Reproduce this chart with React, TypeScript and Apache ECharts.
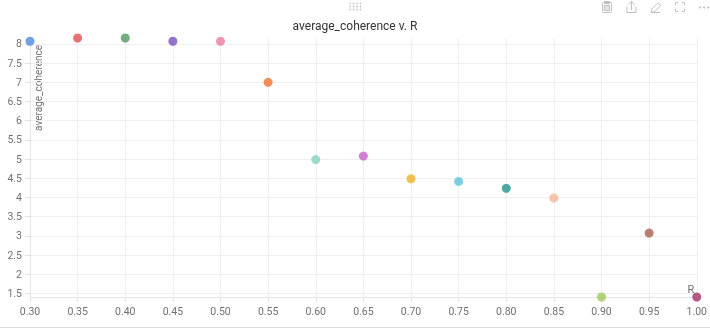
import React, { useEffect, useRef } from "react";
import * as echarts from "echarts";

const rValues = [0.3, 0.35, 0.4, 0.45, 0.5, 0.55, 0.6, 0.65, 0.7, 0.75, 0.8, 0.85, 0.9, 0.95, 1.0];
const coherenceValues = [8.07, 8.155, 8.155, 8.07, 8.07, 7.0, 4.99, 5.08, 4.49, 4.42, 4.24, 3.99, 1.41, 3.075, 1.41];
const xTickInterval = 0.05;

const palette = [
  "#4f8ae6", "#e05050", "#4f9a5c", "#7a4fbe", "#ec7c9c",
  "#ec7430", "#82d2bf", "#c862c8", "#efb22c", "#5cc3d8",
  "#20938a", "#f5b792", "#9cc957", "#a6604a", "#a52f66",
];

const titleText = "average_coherence v. R";
const yName = "average_coherence";
const xName = "R";

export default function App() {
  const ref = useRef<HTMLDivElement>(null);
  useEffect(() => {
    if (!ref.current) return;
    const chart = echarts.init(ref.current, null, { renderer: "svg" });
    const font = "Roboto, 'Noto Sans', sans-serif";
    const yMin = Math.min(...coherenceValues);
    const yMax = Math.max(...coherenceValues);
    const iconColor = "#bfbfbf";
    const dots: any[] = [];
    for (let r = 0; r < 3; r++) {
      for (let c = 0; c < 4; c++) {
        dots.push({
          type: "circle",
          shape: { cx: 350 + c * 3.5, cy: 3.5 + r * 3, r: 0.8 },
          style: { fill: "#c4c4c4" },
          silent: true,
        });
      }
    }
    const iconStroke = { stroke: iconColor, lineWidth: 1, fill: "none" };
    const icons: any[] = [
      // clipboard
      { type: "rect", shape: { x: 602.5, y: 2.5, width: 9, height: 10, r: 1 }, style: iconStroke },
      { type: "rect", shape: { x: 604.5, y: 1.5, width: 5, height: 2 }, style: { ...iconStroke, fill: iconColor } },
      { type: "rect", shape: { x: 604.5, y: 5.5, width: 5, height: 5 }, style: { ...iconStroke, fill: "#e4e4e4" } },
      // share
      { type: "polyline", shape: { points: [[627, 7], [627, 12.5], [636, 12.5], [636, 7]] }, style: iconStroke },
      { type: "polyline", shape: { points: [[631.5, 10], [631.5, 1.5]] }, style: iconStroke },
      { type: "polyline", shape: { points: [[628.5, 4.5], [631.5, 1.5], [634.5, 4.5]] }, style: iconStroke },
      // pencil
      { type: "polygon", shape: { points: [[651, 12.5], [651.8, 9], [658, 2.8], [660.7, 5.5], [654.5, 11.7]] }, style: iconStroke },
      { type: "polyline", shape: { points: [[651, 12.5], [660, 12.5]] }, style: iconStroke },
      // fullscreen corners
      { type: "polyline", shape: { points: [[675.5, 5], [675.5, 2.5], [678, 2.5]] }, style: iconStroke },
      { type: "polyline", shape: { points: [[682, 2.5], [684.5, 2.5], [684.5, 5]] }, style: iconStroke },
      { type: "polyline", shape: { points: [[684.5, 9], [684.5, 11.5], [682, 11.5]] }, style: iconStroke },
      { type: "polyline", shape: { points: [[678, 11.5], [675.5, 11.5], [675.5, 9]] }, style: iconStroke },
      // more
      { type: "circle", shape: { cx: 700, cy: 7.5, r: 1 }, style: { fill: iconColor } },
      { type: "circle", shape: { cx: 704, cy: 7.5, r: 1 }, style: { fill: iconColor } },
      { type: "circle", shape: { cx: 708, cy: 7.5, r: 1 }, style: { fill: iconColor } },
    ].map((g) => ({ ...g, silent: true }));

    // hide the split line at the upper extent of the y axis
    const splitColors: string[] = [];
    for (let i = 0; i < 15; i++) splitColors.push("#efefef");
    splitColors.push("rgba(0,0,0,0)");

    const series = rValues.map((r, i) => ({
      type: "scatter",
      name: String(r),
      data: [[r, coherenceValues[i]]],
      symbolSize: 9,
      itemStyle: { color: palette[i % palette.length] },
    }));
    chart.setOption({
      animation: false,
      textStyle: { fontFamily: font },
      title: {
        text: titleText,
        left: "center",
        top: 15,
        textStyle: { fontSize: 12, fontWeight: "normal", color: "#333", fontFamily: font },
      },
      grid: { left: 30, right: 12, top: 38, bottom: 32, containLabel: false },
      xAxis: {
        type: "value",
        min: rValues[0],
        max: rValues[rValues.length - 1],
        interval: xTickInterval,
        axisLine: { lineStyle: { color: "#e3e3e3" } },
        axisTick: { lineStyle: { color: "#e3e3e3" } },
        axisLabel: {
          color: "#707070",
          fontSize: 10.5,
          fontFamily: font,
          margin: 9,
          formatter: (v: number) => v.toFixed(2),
        },
        splitLine: { show: true, lineStyle: { color: "#efefef" } },
      },
      yAxis: {
        type: "value",
        min: yMin,
        max: yMax,
        splitNumber: 13,
        axisLine: { show: true, lineStyle: { color: "#e3e3e3" } },
        axisTick: { show: true, lineStyle: { color: "#e3e3e3" } },
        axisLabel: {
          color: "#707070",
          fontSize: 10.5,
          fontFamily: font,
          showMinLabel: false,
          showMaxLabel: false,
        },
        splitLine: { show: true, lineStyle: { color: splitColors } },
      },
      graphic: [
        ...dots,
        ...icons,
        {
          type: "text",
          x: 38,
          y: 45,
          rotation: Math.PI / 2,
          style: {
            text: yName,
            fill: "#707070",
            font: `10px ${font}`,
            align: "right",
            verticalAlign: "middle",
          },
        },
        {
          type: "text",
          x: 691,
          y: 289,
          style: {
            text: xName,
            fill: "#707070",
            font: `11px ${font}`,
            align: "center",
            verticalAlign: "middle",
          },
        },
        {
          type: "line",
          shape: { x1: 0, y1: 327.5, x2: 710, y2: 327.5 },
          style: { stroke: "#dcdcdc", lineWidth: 1 },
          silent: true,
        },
      ],
      series,
    });
    return () => chart.dispose();
  }, []);
  return (
    <div
      ref={ref}
      style={{ position: "fixed", left: 0, top: 0, width: 710, height: 329 }}
    />
  );
}
